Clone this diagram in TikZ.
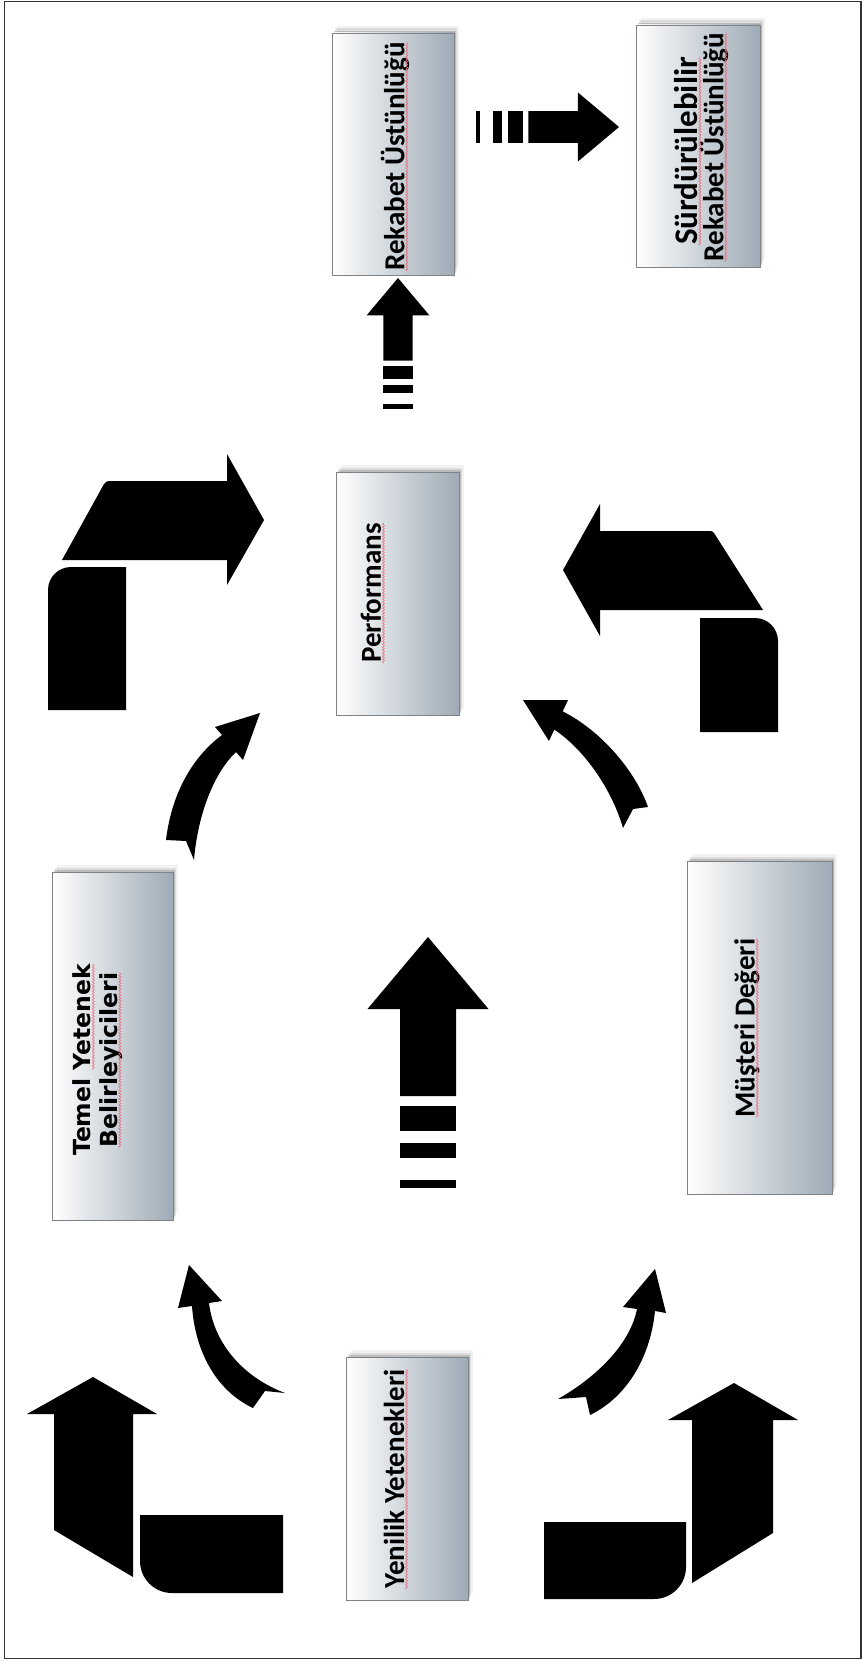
\documentclass[tikz,border=0pt]{standalone}
\usepackage{fontspec}
\newfontfamily\boxfont{Carlito}
\newfontfamily\verafont{DejaVu Sans}
\usetikzlibrary{shadows,decorations.pathmorphing,calc}
\definecolor{boxedge}{RGB}{128,130,134}
\definecolor{boxright}{RGB}{158,171,182}
\definecolor{squiggle}{RGB}{232,110,124}
\tikzset{
  panel/.style={draw=boxedge, line width=0.8pt, left color=white, right color=boxright,
    general shadow={fill=black, opacity=.14, shadow xshift=1.5pt, shadow yshift=2pt},
    general shadow={fill=black, opacity=.09, shadow xshift=3pt, shadow yshift=4.5pt},
    general shadow={fill=black, opacity=.05, shadow xshift=4.5pt, shadow yshift=7pt}},
  lbl/.style={rotate=90, inner sep=0pt, text=black,
    font=\boxfont\bfseries\fontsize{29}{29}\selectfont},
  biglbl/.style={lbl, font=\boxfont\bfseries\fontsize{33}{33}\selectfont},
  vlbl/.style={rotate=90, inner sep=0pt, text=black,
    font=\verafont\bfseries\fontsize{23.5}{23.5}\selectfont},
  squig/.style={draw=squiggle, line width=0.6pt, decorate,
    decoration={zigzag, amplitude=1pt, segment length=3pt}},
  blockarrow/.style={fill=black}
}
% striped block arrow, tip at the local origin, pointing up
\newcommand{\stripedarrow}[4]{%
  \begin{scope}[shift={(#1,#2)}, rotate=#4, scale=#3]
    \fill[blockarrow] (0,0) -- (60.5,72) -- (28,72) -- (28,159) -- (-28,159)
      -- (-28,72) -- (-60.5,72) -- cycle;
    \fill[blockarrow] (-28,169) rectangle (28,194);
    \fill[blockarrow] (-28,206) rectangle (28,221);
    \fill[blockarrow] (-28,243) rectangle (28,251);
  \end{scope}}
\begin{document}
\begin{tikzpicture}[x=1pt,y=-1pt]
\useasboundingbox (0,0) rectangle (865,1664);
\fill[white] (0,0) rectangle (865,1664);
\draw[line width=1.2pt, black!80] (4.5,1.5) rectangle (861,1658.5);

% ---------- boxes ----------
\node[panel, minimum width=122pt, minimum height=242pt] (rekabet) at (393,154) {};
\node[panel, minimum width=124pt, minimum height=242pt] (surdur) at (698,146) {};
\node[panel, minimum width=123pt, minimum height=243pt] (perf) at (397.5,593.5) {};
\node[panel, minimum width=121pt, minimum height=348pt] (temel) at (112.5,1046) {};
\node[panel, minimum width=145pt, minimum height=333pt] (musteri) at (759.5,1027.5) {};
\node[panel, minimum width=122pt, minimum height=243pt] (yenilik) at (407,1478.5) {};

% ---------- labels ----------
\node[lbl] (trek) at (395,156.5) {Rekabet Üstünlüğü};
\node[biglbl] (tsur1) at (686,151) {Sürdürülebilir};
\node[lbl] (tsur2) at (714,147) {Rekabet Üstünlüğü};
\node[lbl] (tperf) at (371,593) {Performans};
\node[vlbl] (ttem1) at (82,1060) {Temel Yetenek};
\node[vlbl] (ttem2) at (111,1060) {Belirleyicileri};
\node[lbl] (tmus) at (747,1028) {Müşteri Değeri};
\node[lbl] (tyen) at (394,1479) {Yenilik Yetenekleri};

% spell-check squiggles under the words
\foreach \t in {trek,tsur1,tsur2,tperf,ttem2,tmus,tyen}
  \draw[squig] ([xshift=2.5pt]\t.base west) -- ([xshift=2.5pt]\t.base east);
\draw[squig] ($([xshift=2.5pt]ttem1.base west)!0.45!([xshift=2.5pt]ttem1.base east)$)
  -- ([xshift=2.5pt]ttem1.base east);

% ---------- striped arrows ----------
\stripedarrow{428}{937}{1}{0}
\stripedarrow{398}{278}{0.52}{0}
\stripedarrow{619}{127}{0.57}{-90}

% ---------- curved arrows ----------
% upper left, towards Performans
\fill[blockarrow] (166,840) .. controls (172,790) and (195,755) .. (222,735)
  -- (215,727) -- (260,713) -- (243,760) -- (236,752)
  .. controls (215,772) and (198,812) .. (194,860) -- (186,841) -- cycle;
% upper right, towards Performans
\fill[blockarrow] (523,700) -- (568,700) -- (562.7,711.4)
  .. controls (600,730) and (635,770) .. (648,807) -- (633,809) -- (623,828)
  .. controls (612,790) and (585,750) .. (554.3,729.6) -- (549,741) -- cycle;
% lower left, towards Temel Yetenek
\fill[blockarrow] (189,1265) -- (222,1301) -- (209,1303)
  .. controls (214,1345) and (245,1378) .. (285,1393) -- (265,1391) -- (253,1408)
  .. controls (215,1390) and (195,1350) .. (192,1306) -- (178,1308) -- cycle;
% lower right, towards Müşteri Değeri
\fill[blockarrow] (655,1269) -- (666,1313) -- (655,1311)
  .. controls (650,1360) and (625,1398) .. (590,1415) -- (586,1397) -- (558,1399)
  .. controls (595,1378) and (630,1345) .. (637,1309) -- (623,1307) -- cycle;

% ---------- bent arrows ----------
% upper left
\fill[blockarrow] (62,560) -- (104,484) .. controls (105.5,481.5) and (107,481) .. (110,481)
  -- (227,481) -- (227,454) -- (264,520) -- (227,585) -- (227,560) -- cycle;
\fill[blockarrow] (48,710) -- (48,590) .. controls (48,577.3) and (58.3,567) .. (71,567)
  -- (126,567) -- (126,710) -- cycle;
% upper right
\fill[blockarrow] (563,570) -- (600,504) -- (600,531) -- (710,531)
  .. controls (712,531) and (713,531.5) .. (714,533) -- (763,610) -- (600,610)
  -- (600,636) -- cycle;
\fill[blockarrow] (700,732) -- (700,618) -- (755,618)
  .. controls (767.7,618) and (778,628.3) .. (778,641) -- (778,732) -- cycle;
% lower left
\fill[blockarrow] (93,1377) -- (157,1414) -- (133,1414) -- (133,1577) -- (54,1530)
  -- (54,1414) -- (27,1414) -- cycle;
\fill[blockarrow] (140,1515) -- (283,1515) -- (283,1593) -- (172,1593)
  .. controls (154.3,1593) and (140,1578.7) .. (140,1561) -- cycle;
% lower right
\fill[blockarrow] (734,1383) -- (798,1420) -- (773,1420) -- (773,1533) -- (692,1583)
  -- (692,1420) -- (668,1420) -- cycle;
\fill[blockarrow] (544,1522) -- (686,1522) -- (686,1567)
  .. controls (686,1584.7) and (671.7,1599) .. (654,1599) -- (544,1599) -- cycle;
\end{tikzpicture}
\end{document}
